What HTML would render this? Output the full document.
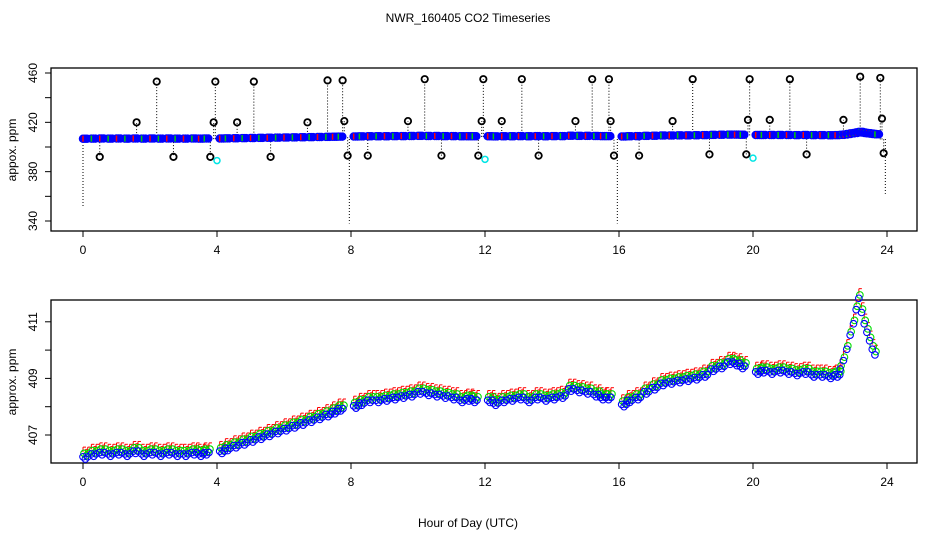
<!DOCTYPE html>
<html><head><meta charset="utf-8"><style>
html,body{margin:0;padding:0;background:#fff}
svg{display:block;font-family:"Liberation Sans",sans-serif}
</style></head><body>
<svg id="c" width="936" height="540" viewBox="0 0 936 540"></svg>
<script>
// baseline CO2 (blue series) by hour
const hours=[0,0.25,0.5,0.75,1,1.25,1.5,1.75,2,2.25,2.5,2.75,3,3.25,3.45,3.62,
4.08,4.25,4.5,4.75,5,5.25,5.5,5.75,6,6.25,6.5,6.75,7,7.25,7.45,7.62,
8.08,8.25,8.5,8.75,9,9.25,9.5,9.75,10,10.25,10.5,10.75,11,11.25,11.45,11.62,
12.08,12.25,12.5,12.75,13,13.25,13.5,13.75,14,14.25,14.5,14.75,15,15.25,15.45,15.62,
16.08,16.25,16.5,16.75,17,17.25,17.5,17.75,18,18.25,18.5,18.75,19,19.25,19.45,19.62,
20.08,20.25,20.5,20.75,21,21.25,21.5,21.75,22,22.25,22.45,22.6,22.7,22.8,22.9,23.0,23.08,23.16,23.24,23.32,23.4,23.48,23.56,23.64];
const co2=[406.2,406.3,406.35,406.3,406.35,406.3,406.4,406.3,406.35,406.3,406.35,406.3,406.3,406.35,406.3,406.35,
406.4,406.5,406.6,406.7,406.8,406.9,407.0,407.1,407.2,407.3,407.4,407.5,407.6,407.7,407.8,407.9,
408.0,408.1,408.2,408.2,408.25,408.3,408.35,408.4,408.5,408.45,408.4,408.35,408.3,408.2,408.25,408.2,
408.2,408.1,408.2,408.25,408.3,408.2,408.3,408.25,408.3,408.35,408.6,408.55,408.5,408.4,408.3,408.3,
408.05,408.2,408.3,408.5,408.65,408.8,408.85,408.9,408.95,409.0,409.1,409.3,409.4,409.55,409.5,409.4,
409.2,409.25,409.2,409.25,409.2,409.15,409.2,409.1,409.1,409.05,409.1,409.3,409.6,410.0,410.5,410.9,411.4,411.8,411.3,410.9,410.6,410.3,410.0,409.8];
// top panel outliers
const outHours=[0.5,1.6,2.2,2.7,3.8,3.9,3.95,4.6,5.1,5.6,6.7,7.3,7.75,7.8,7.9,8.5,9.7,10.2,10.7,11.8,11.9,11.95,12.5,13.1,13.6,14.7,15.2,15.7,15.75,15.85,16.6,17.6,18.2,18.7,19.8,19.85,19.9,20.5,21.1,21.6,22.7,23.2,23.8,23.85,23.9];
const outVals=[392,420,453,392,392,420,453,420,453,392,420,454,454,421,393,393,421,455,393,393,421,455,421,455,393,421,455,455,421,393,393,421,455,394,394,422,455,422,455,394,422,457,456,423,395];
const cyanHours=[4.0,12.0,20.0];
const cyanVals=[389,390,391];
const dropHours=[0,7.95,15.95,23.95];
const dropVals=[352,338,338,362];
const xTicks=[0,4,8,12,16,20,24];
const topYTicks=[340,360,380,400,420,440,460];
const topYLabels=[340,380,420,460];
const botYTicks=[407,408,409,410,411];
const botYLabels=[407,409,411];

const NS="http://www.w3.org/2000/svg";
const svg=document.getElementById('c');
function el(t,a,p){const e=document.createElementNS(NS,t);for(const k in a)e.setAttribute(k,a[k]);(p||svg).appendChild(e);return e;}
const X=h=>83+h*33.5;
const Yt=v=>73+(460-v)*1.2333;
const Yb=v=>435-(v-407)*28.3;

let t=el('text',{x:468,y:22,'text-anchor':'middle','font-size':12});t.textContent='NWR_160405  CO2 Timeseries';


t=el('text',{x:468,y:527,'text-anchor':'middle','font-size':12});t.textContent='Hour of Day (UTC)';



function panel(name,top,bot,Y,yt,yl,ytitle,ymid){
  const g=el('g',{});
  
  
  el('rect',{x:51,y:top,width:866,height:bot-top,fill:'none',stroke:'#000','stroke-width':1.3},g);
  xTicks.forEach(h=>{el('line',{x1:X(h),x2:X(h),y1:bot,y2:bot+6,stroke:'#000'},g);
    const l=el('text',{x:X(h),y:bot+23,'text-anchor':'middle','font-size':12},g);l.textContent=h;
    
    });
  yt.forEach(v=>el('line',{x1:45,x2:51,y1:Y(v),y2:Y(v),stroke:'#000'},g));
  yl.forEach(v=>{const l=el('text',{x:0,y:0,'text-anchor':'middle','font-size':12,transform:`translate(37,${Y(v)}) rotate(-90)`},g);l.textContent=v;
    
    });
  const yt2=el('text',{x:0,y:0,'text-anchor':'middle','font-size':12,transform:`translate(16,${ymid}) rotate(-90)`},g);yt2.textContent=ytitle;
  
  
  return g;
}
const gt=panel('top-panel',68,231,Yt,topYTicks,topYLabels,'appox. ppm',150);
const gb=panel('bottom-panel',300,463,Yb,botYTicks,botYLabels,'approx. ppm',382);

// top panel
dropHours.forEach((h,i)=>el('line',{x1:X(h),x2:X(h),y1:Yt(406.5),y2:Yt(dropVals[i]),stroke:'#000','stroke-dasharray':'1,2'},gt));
outHours.forEach((h,i)=>{const v=outVals[i],b=co2[Math.max(0,hours.findIndex(x=>x>=h)-1)]||407;
  el('line',{x1:X(h),x2:X(h),y1:Yt(b),y2:Yt(v),stroke:'#000','stroke-dasharray':'1,2'},gt);});
hours.forEach((h,i)=>{for(let k=0;k<3;k++){const hh=h+k*0.06;
  el('circle',{cx:X(hh),cy:Yt(co2[i]+0.5),r:3,fill:'none',stroke:'#0000ff','stroke-width':2.5},gt);}
  el('line',{x1:X(h),x2:X(h),y1:Yt(co2[i]+0.5)-3,y2:Yt(co2[i]+0.5)+3,stroke:i%2?'#00cc00':'#ff0000','stroke-width':1.5},gt);});
outHours.forEach((h,i)=>{const c=el('circle',{cx:X(h),cy:Yt(outVals[i]),r:3.2,fill:'none',stroke:'#000','stroke-width':1.8},gt);
  
  });
cyanHours.forEach((h,i)=>{const c=el('circle',{cx:X(h),cy:Yt(cyanVals[i]),r:3,fill:'none',stroke:'#00e5e5','stroke-width':1.5},gt);
  
  });

// bottom panel
const series=[['#ff0000',0.2],['#00dd00',0.12],['#0000ff',0]];
series.forEach(([col,off])=>{
  hours.forEach((h,i)=>{const n=h>22.5?1:3;for(let k=0;k<n;k++){const hh=h+k*0.07;
    const v=co2[i]+off+(k===1?-0.05:0.03);
    if(col==='#ff0000'){el('line',{x1:X(hh),x2:X(hh),y1:Yb(v)-4,y2:Yb(v)+1,stroke:col,'stroke-width':1},gb);
      el('line',{x1:X(hh),x2:X(hh)+3,y1:Yb(v)-4,y2:Yb(v)-4,stroke:col,'stroke-width':1},gb);}
    else{const c=el('circle',{cx:X(hh)+(off?1:0),cy:Yb(v),r:3.3,fill:'none',stroke:col,'stroke-width':1.1},gb);
      
      }
  }});
});
</script>
</body></html>
